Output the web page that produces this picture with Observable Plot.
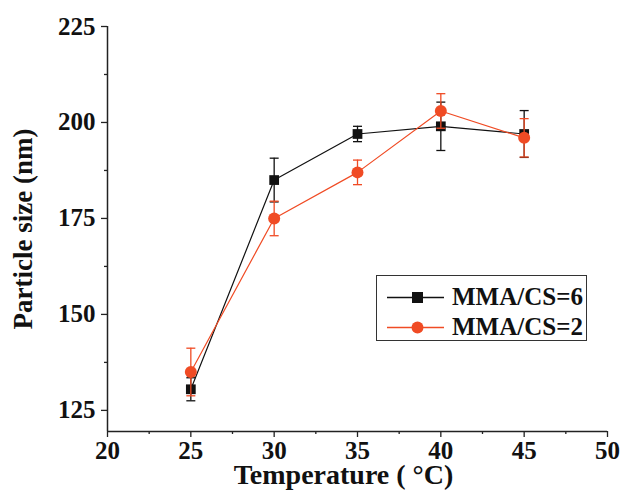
<!DOCTYPE html>
<html>
<head>
<meta charset="utf-8">
<script src="https://cdn.jsdelivr.net/npm/d3@7"></script>
<script src="https://cdn.jsdelivr.net/npm/@observablehq/plot@0.6"></script>
<style>
  html, body { margin: 0; padding: 0; background: #fff; }
  #chart { position: relative; width: 620px; height: 492px; }
  #chart svg text {
    font-family: "Liberation Serif", "Times New Roman", serif;
    font-weight: bold;
  }
  .legend {
    position: absolute; left: 376px; top: 275px; width: 211px; height: 66px;
    box-sizing: border-box; border: 1.3px solid #333; background: #fff;
    font-family: "Liberation Serif", "Times New Roman", serif; font-weight: bold; font-size: 25px;
  }
  .legend .row { position: absolute; left: 0; height: 30px; display: flex; align-items: center; }
  .legend svg { margin-left: 10px; margin-right: 8px; }
</style>
</head>
<body>
<div id="chart"></div>
<script>
// Temperature (°C) at which the particles were prepared
const temperature = [25, 30, 35, 40, 45];

// Mean particle size (nm) and error half-width for each MMA/CS ratio
const seriesNames = ["MMA/CS=6", "MMA/CS=2"];
const size6 = [130.5, 185, 197, 199, 197];
const err6 = [3, 5.7, 2, 6.3, 6.1];
const size2 = [135, 175, 187, 203, 196];
const err2 = [6.2, 4.5, 3.2, 4.5, 5];
const colors = ["#111111", "#f04b24"];

// Axis ticks and titles
const xTicks = [20, 25, 30, 35, 40, 45, 50];
const xMinor = [22.5, 27.5, 32.5, 37.5, 42.5, 47.5];
const yTicks = [125, 150, 175, 200, 225];
const yMinor = [137.5, 162.5, 187.5, 212.5];
const xTitle = "Temperature ( °C)";
const yTitle = "Particle size (nm)";

const rows = (sizes, errs, name) =>
  temperature.map((t, i) => ({t, size: sizes[i], lo: sizes[i] - errs[i], hi: sizes[i] + errs[i], name}));
const data6 = rows(size6, err6, seriesNames[0]);
const data2 = rows(size2, err2, seriesNames[1]);

// horizontal caps at both ends of each error bar, half-width in temperature units
const capHalf = 0.27;
const caps = d => d.flatMap(r => [
  {x1: r.t - capHalf, x2: r.t + capHalf, y: r.lo},
  {x1: r.t - capHalf, x2: r.t + capHalf, y: r.hi}
]);

function seriesMarks(d, color, symbol, r) {
  return [
    Plot.line(d, {x: "t", y: "size", stroke: color, strokeWidth: 1.2}),
    Plot.ruleX(d, {x: "t", y1: "lo", y2: "hi", stroke: color, strokeWidth: 1.3}),
    Plot.link(caps(d), {x1: "x1", x2: "x2", y1: "y", y2: "y", stroke: color, strokeWidth: 1.3}),
    Plot.dot(d, {x: "t", y: "size", symbol, r, fill: color, stroke: "none"})
  ];
}

const plot = Plot.plot({
  width: 620,
  height: 492,
  marginLeft: 107,
  marginRight: 13,
  marginTop: 26,
  marginBottom: 61,
  style: {color: "#111", background: "#fff"},
  x: {domain: [20, 50]},
  y: {domain: [119.5, 225]},
  marks: [
    Plot.axisX({ticks: xMinor, tickSize: 3, tickFormat: () => "", stroke: "#222", strokeWidth: 1.3, label: null}),
    Plot.axisX({ticks: xTicks, tickSize: 6, tickPadding: 4, stroke: "#222", strokeWidth: 1.3, fontSize: 25, label: null}),
    Plot.axisY({ticks: yMinor, tickSize: 3, tickFormat: () => "", stroke: "#222", strokeWidth: 1.3, label: null}),
    Plot.axisY({ticks: yTicks, tickSize: 6, tickPadding: 6, stroke: "#222", strokeWidth: 1.3, fontSize: 25, label: null}),
    Plot.ruleX([20], {stroke: "#222", strokeWidth: 1.5}),
    Plot.ruleY([119.5], {stroke: "#222", strokeWidth: 1.5}),
    Plot.text([xTitle], {frameAnchor: "bottom", textAnchor: "middle", lineAnchor: "middle",
      dx: -14, dy: 44, fontSize: 28, fill: "#111"}),
    Plot.text([yTitle], {frameAnchor: "left", textAnchor: "middle", lineAnchor: "middle", rotate: -90,
      dx: -84, fontSize: 27, fill: "#111"}),
    ...seriesMarks(data6, colors[0], "square", 5.5),
    ...seriesMarks(data2, colors[1], "circle", 6)
  ]
});

const chart = document.getElementById("chart");
chart.appendChild(plot);

// legend
const legend = document.createElement("div");
legend.className = "legend";
const symbols = [
  c => `<rect x="25" y="5" width="11" height="11" fill="${c}"/>`,
  c => `<circle cx="30.5" cy="10.5" r="6" fill="${c}"/>`
];
seriesNames.forEach((name, i) => {
  const row = document.createElement("div");
  row.className = "row";
  row.style.top = (6 + i * 30) + "px";
  row.innerHTML = `<svg width="57" height="21"><line x1="0" x2="57" y1="10.5" y2="10.5" stroke="${colors[i]}" stroke-width="1.3"/>${symbols[i](colors[i])}</svg><span style="color:#111">${name}</span>`;
  legend.appendChild(row);
});
chart.appendChild(legend);
</script>
</body>
</html>
